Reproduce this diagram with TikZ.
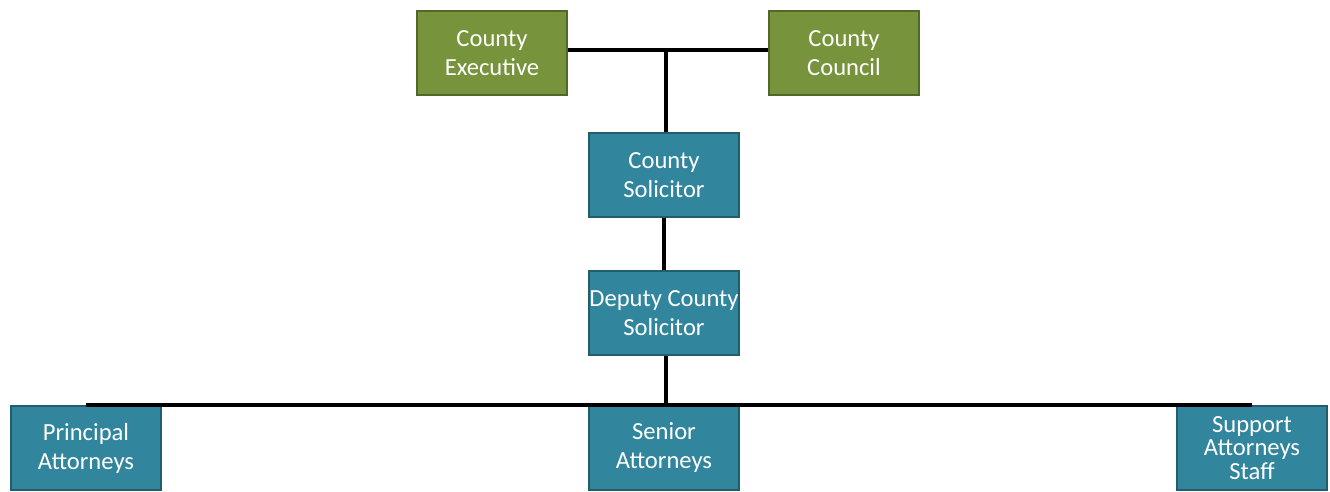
\documentclass[tikz,border=0pt]{standalone}
\usepackage{fontspec}
\setmainfont{Carlito}
\usepackage{xcolor}
\usetikzlibrary{positioning}
\definecolor{boxgreen}{RGB}{119,147,60}
\definecolor{boxblue}{RGB}{49,133,156}

\begin{document}
\begin{tikzpicture}[x=0.02cm,y=-0.02cm,font=\fontsize{14}{16.5}\selectfont,
    office/.style={draw=#1!70!black,line width=1.2pt,fill=#1,text=white,
      minimum width=3.0cm,minimum height=1.68cm,align=center,inner xsep=0pt,inner ysep=1pt},
    link/.style={line width=2pt}]
  % page frame, same size as the reference (1330 x 492 px)
  \useasboundingbox (0,0) rectangle (1330,492);
  % top level
  \node[office=boxgreen] (exec) at (492,53) {County\\Executive};
  \node[office=boxgreen] (council) at (844,53) {County\\Council};
  % solicitors
  \node[office=boxblue] (sol) at (664,175) {County\\Solicitor};
  \node[office=boxblue] (dep) at (664,313) {Deputy County\\Solicitor};
  % attorneys
  \node[office=boxblue] (princ) at (86,448) {Principal\\Attorneys};
  \node[office=boxblue] (senior) at (664,448) {Senior\\Attorneys};
  \node[office=boxblue,font=\fontsize{14}{13.5}\selectfont] (support) at (1252,448) {Support\\Attorneys\\Staff};
  % connectors
  \coordinate (top) at (666,50);
  \coordinate (bar) at (666,405);
  \draw[link] (exec.east |- top) -- (council.west |- top);
  \draw[link] (top) -- (top |- sol.north);
  \draw[link] (sol) -- (dep);
  \draw[link] (dep.south -| bar) -- (bar);
  \draw[link] (princ.center |- bar) -- (support.center |- bar);
\end{tikzpicture}
\end{document}
